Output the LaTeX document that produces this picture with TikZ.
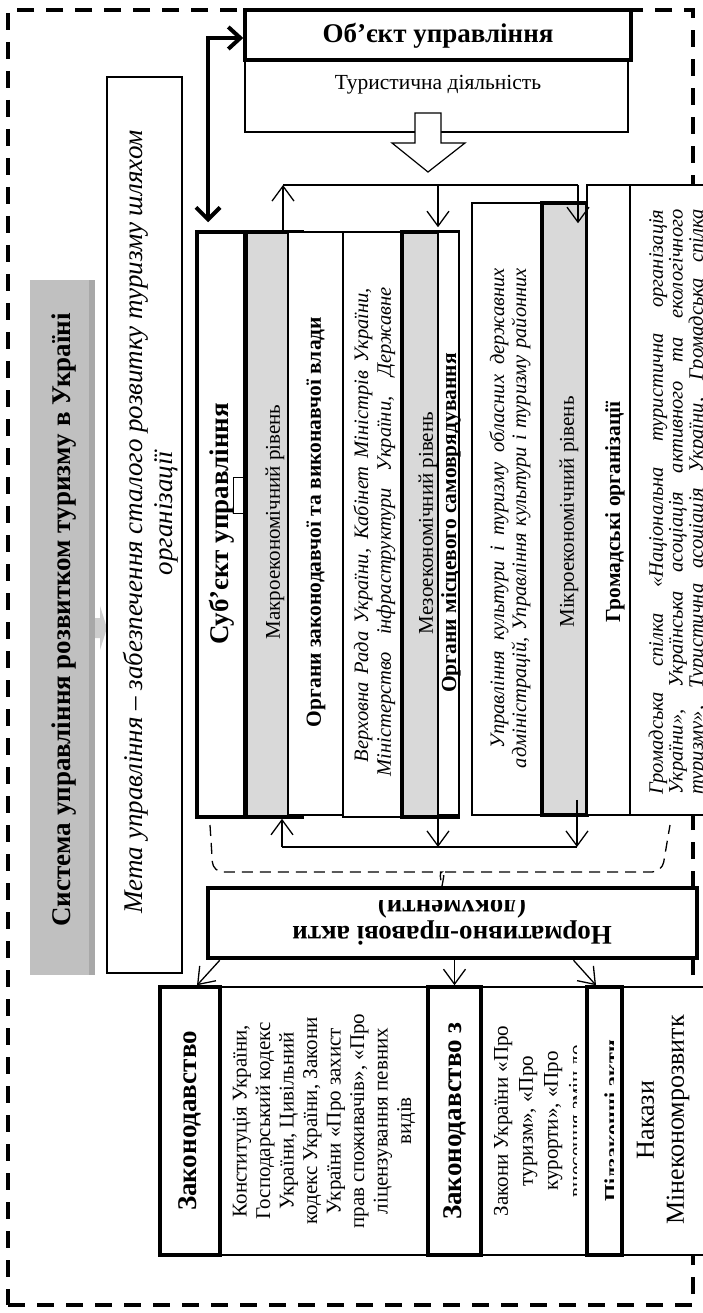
\documentclass[tikz,border=0pt]{standalone}
\usepackage{fontspec}
\setmainfont{Liberation Serif}
\usetikzlibrary{arrows.meta,fit,calc}
\definecolor{titlegray}{RGB}{192,192,192}
\definecolor{titleshade}{RGB}{168,168,168}
\definecolor{levelgray}{RGB}{217,217,217}
\newcommand{\setfs}[2]{\fontsize{#1}{#2}\selectfont}

\begin{document}
\begin{tikzpicture}[x=1pt,y=-1pt,
  thinbox/.style={draw, line width=1.2pt, fill=white, inner sep=0pt},
  heavybox/.style={draw, line width=3.5pt, fill=white, inner sep=0pt},
  levelbox/.style={draw, line width=3.5pt, fill=levelgray, inner sep=0pt},
  vtext/.style={rotate=90, inner sep=0pt},
  link/.style={line width=1.3pt, -{Straight Barb[length=15pt,width=22pt]}},
  wire/.style={line width=1.3pt},
  bracket/.style={line width=1.3pt, dash pattern=on 11pt off 7pt, rounded corners=10pt},
]
\useasboundingbox (0,0) rectangle (702,1313);

% outer dashed frame
\node[fit={(8,10)(693,1305)}, inner sep=0pt, draw, line width=3.5pt,
      dash pattern=on 17pt off 12pt] (frame) {};

% title bar with its small pointer
\node[fit={(30,280)(95,975)}, inner sep=0pt, fill=titlegray] (title) {};
\fill[titleshade] (89,280) rectangle (95,975);
\fill[titlegray!80] (95,618) -- (100,618) -- (100,606) -- (107,628) -- (100,650) -- (100,638) -- (95,638) -- cycle;
\node[vtext, font=\bfseries\setfs{27}{31}] (titletext) at (64,620)
  {Система управління розвитком туризму в Україні};

% goal of management
\node[fit={(107,77)(182,973)}, thinbox] (goal) {};
\node[vtext, font=\itshape\setfs{27}{31}] (goal1) at (136,522)
  {Мета управління – забезпечення сталого розвитку туризму шляхом};
\node[vtext, font=\itshape\setfs{27}{31}] (goal2) at (166,513) {організації};

% object of management
\node[fit={(245,60)(628,132)}, thinbox] (activity) {};
\node[fit={(245,10)(631,60)}, heavybox] (object) {};
\node[font=\bfseries\setfs{27}{31}] (objtext) at (438,36) {Об’єкт управління};
\node[font=\setfs{21.5}{25}] (acttext) at (438,85) {Туристична діяльність};
\draw[line width=1.2pt, fill=white] (415,113) -- (441,113) -- (441,143) -- (465,143)
  -- (428,172) -- (392,143) -- (415,143) -- cycle;

% columns of the subject of management
\node[fit={(197,232)(245,817)}, heavybox] (subject) {};
\node[fit={(246,232)(302,817)}, levelbox] (macro) {};
\node[fit={(288,232)(343,815)}, thinbox] (stateorg) {};
\node[fit={(343,232)(402,817)}, thinbox] (stateinst) {};
\node[fit={(402,232)(458,817)}, levelbox] (meso) {};
\node[fit={(438,232)(459,815)}, thinbox] (localorg) {};
\node[fit={(472,203)(542,815)}, thinbox] (localinst) {};
\node[fit={(542,203)(587,815)}, levelbox] (micro) {};
\node[fit={(587,185)(630,815)}, thinbox] (civic) {};
\node[fit={(630,185)(720,815)}, thinbox] (civicinst) {};
\draw[line width=1pt] (245,477) -- (233,477) -- (233,513) -- (245,513);

\node[vtext, font=\bfseries\setfs{27}{31}] (subjtext) at (222,524) {Суб’єкт управління};
\node[vtext, font=\setfs{21}{24}] (macrotext) at (275,522) {Макроекономічний рівень};
\node[vtext, font=\bfseries\setfs{21.5}{25}] (stateorgtext) at (316,522)
  {Органи законодавчої та виконавчої влади};
\node[vtext, font=\itshape\setfs{20.5}{23}] (stateinst1) at (363,525)
  {\makebox[474pt][s]{Верховна Рада України, Кабінет Міністрів України,}};
\node[vtext, font=\itshape\setfs{20.5}{23}] (stateinst2) at (386,532)
  {\makebox[489pt][s]{Міністерство інфраструктури України, Державне}};
\node[vtext, font=\setfs{21}{24}] (mesotext) at (428,523) {Мезоекономічний рівень};
\node[vtext, font=\bfseries\setfs{21.5}{25}] (localorgtext) at (451,523)
  {Органи місцевого самоврядування};
\node[vtext, font=\itshape\setfs{20.5}{23}] (localinst1) at (499,508)
  {\makebox[480pt][s]{Управління культури і туризму обласних державних}};
\node[vtext, font=\itshape\setfs{20.5}{23}] (localinst2) at (521,518)
  {\makebox[500pt][s]{адміністрацій, Управління культури і туризму районних}};
\node[vtext, font=\setfs{21}{24}] (microtext) at (569,512) {Мікроекономічний рівень};
\node[vtext, font=\bfseries\setfs{21.5}{25}] (civictext) at (615,512) {Громадські організації};
\node[vtext, font=\itshape\setfs{20.5}{23}] (civic1) at (658,502)
  {\makebox[585pt][s]{Громадська спілка «Національна туристична організація}};
\node[vtext, font=\itshape\setfs{20.5}{23}] (civic2) at (678,502)
  {\makebox[585pt][s]{України», Українська асоціація активного та екологічного}};
\node[vtext, font=\itshape\setfs{20.5}{23}] (civic3) at (698,502)
  {\makebox[585pt][s]{туризму», Туристична асоціація України, Громадська спілка}};

% management link between object and subject
\coordinate (bend) at (208,38);
\draw[line width=4pt, {Straight Barb[length=12pt,width=22pt]}-{Straight Barb[length=12pt,width=24pt]}]
  (bend -| object.west) -- (bend) -- ($(bend |- subject.north)+(0,-8)$);

% feedback lines above the columns
\coordinate (topL) at (283,185);
\coordinate (topM) at (438,185);
\coordinate (topR) at (578,185);
\draw[link] (topL |- macro.north) -- (topL);
\draw[wire] (topL) -- (topR);
\draw[link] (topM) -- ($(topM |- meso.north)+(0,-3)$);
\draw[link] (topR) -- ($(topR |- micro.north)+(0,22)$);

% feedback lines below the columns
\coordinate (botL) at (282,847);
\coordinate (botM) at (438,847);
\coordinate (botR) at (577,847);
\draw[link] (botL) -- (botL |- macro.south);
\draw[wire] (botL) -- (botR);
\draw[link] ($(botM |- meso.south)+(0,-20)$) -- (botM);
\draw[link] ($(botR |- micro.south)+(0,-17)$) -- (botR);

% dashed brace gathering the columns
\coordinate (cusp) at (442,886);
\draw[bracket] (210,825) -- (213,872) -- (432,872) to[out=0,in=100] (cusp);
\draw[bracket] (cusp) to[out=80,in=180] (452,872) -- (662,872) -- (670,825);

% legal acts
\node[fit={(208,888)(697,958)}, draw, line width=4.5pt, fill=white, inner sep=0pt] (norm) {};
\begin{scope}
  \clip (210,900) rectangle (695,955.5);
  \node[rotate=180, anchor=base, inner sep=0pt, font=\bfseries\setfs{27}{31}] (normtext1)
    at (452,926) {Нормативно-правові акти};
  \node[rotate=180, anchor=base, inner sep=0pt, font=\bfseries\setfs{27}{31}] (normtext2)
    at (452,899) {(документи)};
\end{scope}

% groups of legal acts
\node[fit={(220,987)(428,1255)}, thinbox] (lawtext) {};
\node[fit={(481,987)(587,1255)}, thinbox] (lawtwotext) {};
\node[fit={(622,987)(712,1255)}, thinbox] (orders) {};
\node[vtext, align=center, font=\setfs{21}{23.5}] (lawbody) at (324,1121)
  {Конституція України,\\Господарський кодекс\\України, Цивільний\\кодекс України, Закони\\України «Про захист\\прав споживачів», «Про\\ліцензування певних\\видів};
\begin{scope}
  \clip (483,989) rectangle (576,1253);
  \node[vtext, align=center, font=\setfs{21}{25}] (lawtwobody) at (540.5,1121)
    {Закони України «Про\\туризм», «Про\\курорти», «Про\\внесення змін до};
\end{scope}
\node[vtext, align=center, font=\setfs{26}{30}] (ordersbody) at (663,1120)
  {Накази\\Мінекономрозвитк};
\node[fit={(160,987)(220,1255)}, heavybox] (law) {};
\node[fit={(428,987)(481,1255)}, heavybox] (lawtwo) {};
\node[fit={(587,987)(622,1255)}, heavybox] (bylaw) {};
\node[vtext, font=\bfseries\setfs{27}{31}] (lawlabel) at (190,1121) {Законодавство};
\node[vtext, font=\bfseries\setfs{27}{31}] (lawtwolabel) at (455,1121) {Законодавство з};
\begin{scope}
  \clip (590,990) rectangle (613,1252);
  \node[rotate=90, anchor=base, inner sep=0pt, font=\bfseries\setfs{22}{25}] (bylawlabel)
    at (619.5,1121) {Підзаконні акти};
\end{scope}

% arrows from the legal acts to their groups
\draw[link] ($(norm.south west)+(14,0)$) -- ($(law.north)+(7,0)$);
\draw[link] (norm.south -| lawtwo.north) -- (lawtwo.north);
\draw[link] ($(norm.south)+(121,0)$) -- ($(bylaw.north)+(-8.5,0)$);
\end{tikzpicture}
\end{document}
